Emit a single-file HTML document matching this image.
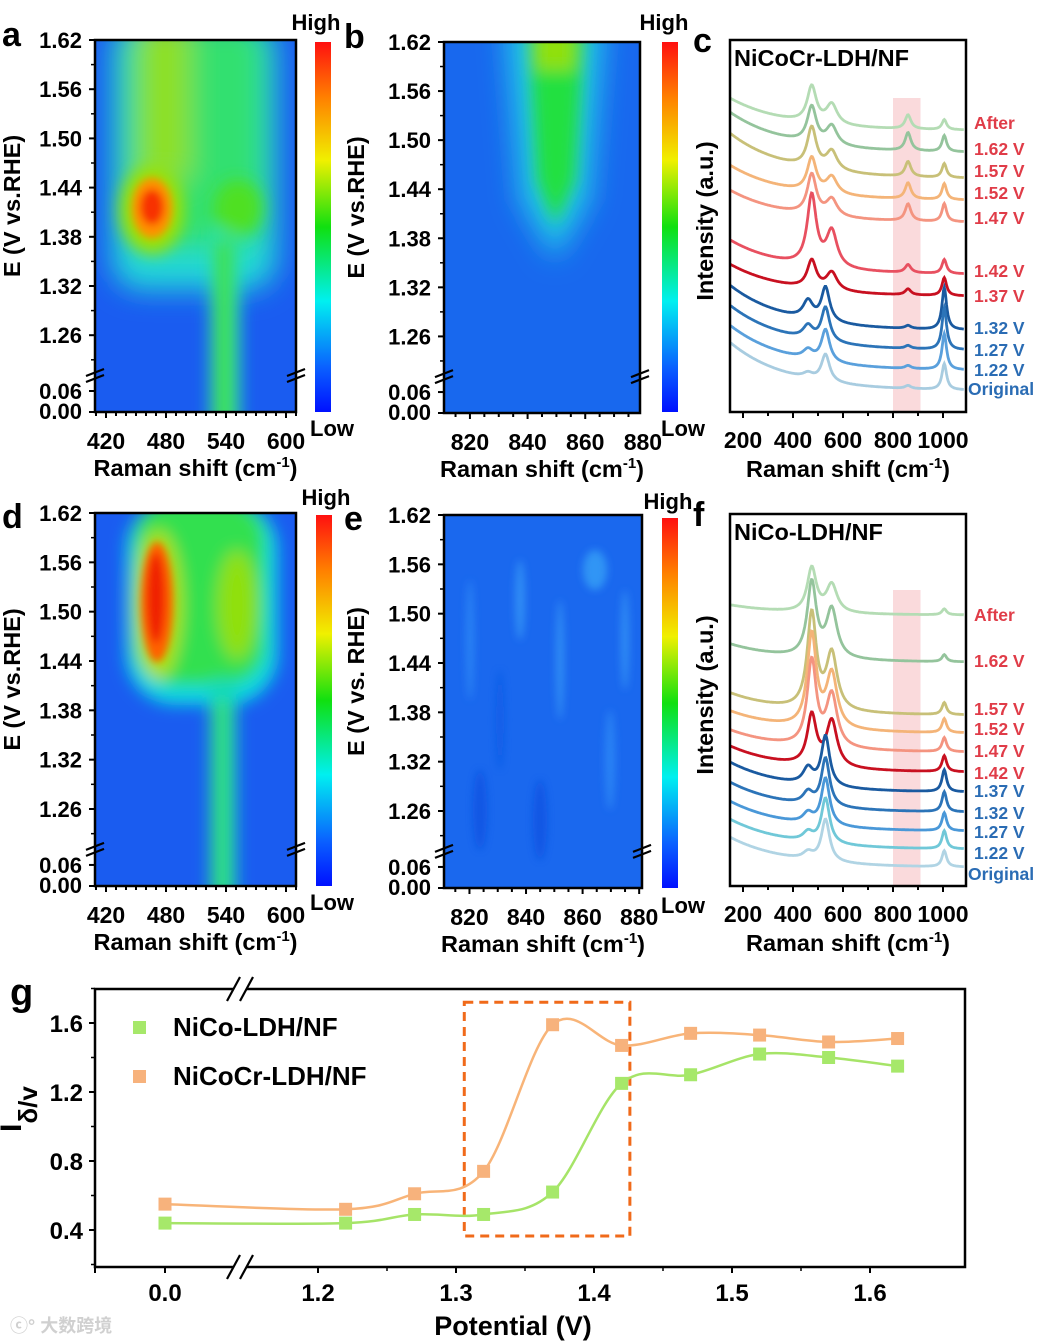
<!DOCTYPE html>
<html><head><meta charset="utf-8">
<style>
html,body{margin:0;padding:0;background:#fff;}
svg{display:block;font-family:"Liberation Sans","Noto Sans CJK SC",sans-serif;font-weight:bold;}
</style></head>
<body>
<svg id="fig" width="1039" height="1342" viewBox="0 0 1039 1342" xmlns="http://www.w3.org/2000/svg">
<defs>
<linearGradient id="jet" x1="0" y1="1" x2="0" y2="0">
<stop offset="0" stop-color="#0010ff"/><stop offset="0.12" stop-color="#0a60ff"/><stop offset="0.3" stop-color="#00f0f0"/>
<stop offset="0.5" stop-color="#10e010"/><stop offset="0.68" stop-color="#f0f000"/><stop offset="0.85" stop-color="#ff8000"/><stop offset="1" stop-color="#ff1010"/>
</linearGradient>
<filter id="bl8" x="-50%" y="-50%" width="200%" height="200%"><feGaussianBlur stdDeviation="8"/></filter>
<filter id="bl4" x="-50%" y="-50%" width="200%" height="200%"><feGaussianBlur stdDeviation="4"/></filter>
<filter id="bl14" x="-50%" y="-50%" width="200%" height="200%"><feGaussianBlur stdDeviation="14"/></filter>
<clipPath id="cpa"><rect x="95" y="40" width="201" height="372"/></clipPath>
<clipPath id="cpb"><rect x="444" y="42" width="196" height="371"/></clipPath>
<clipPath id="cpd"><rect x="95" y="513" width="201" height="373"/></clipPath>
<clipPath id="cpe"><rect x="444" y="515" width="198" height="373"/></clipPath>
</defs>

<g clip-path="url(#cpa)">
<rect x="95" y="40" width="201" height="372" fill="#1a5cf0"/>
<g filter="url(#bl14)">
<rect x="112" y="20" width="165" height="270" rx="30" fill="#20d8d8"/>
<rect x="125" y="20" width="140" height="230" rx="30" fill="#30e070"/>
<rect x="140" y="20" width="50" height="160" fill="#90e020"/>
</g>
<g filter="url(#bl8)">
<rect x="210" y="230" width="30" height="200" fill="#20e0b0"/>
<rect x="215" y="240" width="18" height="190" fill="#40e040"/>
<ellipse cx="238" cy="208" rx="24" ry="28" fill="#50e020"/>
<ellipse cx="152" cy="210" rx="32" ry="44" fill="#a0e000"/>
</g>
<g filter="url(#bl4)">
<ellipse cx="152" cy="208" rx="20" ry="30" fill="#ff9000"/>
<ellipse cx="152" cy="207" rx="12" ry="18" fill="#f83000"/>
</g>
</g>
<g clip-path="url(#cpb)">
<rect x="444" y="42" width="196" height="371" fill="#1868ee"/>
<g filter="url(#bl14)">
<path d="M505 20 L605 20 L590 200 L555 260 L520 200 Z" fill="#20c8e8"/>
</g>
<g filter="url(#bl8)">
<path d="M528 20 L585 20 L575 180 L555 225 L537 180 Z" fill="#20e040"/>
<rect x="535" y="30" width="40" height="40" fill="#90e010"/>
</g>
</g>
<g clip-path="url(#cpd)">
<rect x="95" y="513" width="201" height="373" fill="#1a5cf0"/>
<g filter="url(#bl8)">
<rect x="126" y="500" width="152" height="205" rx="50" fill="#10d8e0"/>
<rect x="135" y="500" width="130" height="185" rx="40" fill="#30e050"/>
<rect x="210" y="680" width="26" height="220" fill="#10d8c0"/>
<rect x="214" y="700" width="16" height="200" fill="#30e070"/>
<ellipse cx="237" cy="605" rx="20" ry="55" fill="#90e010"/>
<ellipse cx="158" cy="605" rx="24" ry="75" fill="#b0e000"/>
</g>
<g filter="url(#bl4)">
<ellipse cx="157" cy="602" rx="16" ry="60" fill="#ff6000"/>
<ellipse cx="156" cy="598" rx="9" ry="45" fill="#f02000"/>
</g>
</g>
<g clip-path="url(#cpe)">
<rect x="444" y="515" width="198" height="373" fill="#1a68ee"/>
<g filter="url(#bl4)" opacity="0.7">
<ellipse cx="520" cy="600" rx="5" ry="40" fill="#3a9ef8"/>
<ellipse cx="595" cy="570" rx="12" ry="20" fill="#3aa8f8"/>
<ellipse cx="470" cy="640" rx="4" ry="60" fill="#3090f8"/>
<ellipse cx="610" cy="760" rx="5" ry="50" fill="#3090f8"/>
<ellipse cx="540" cy="820" rx="7" ry="40" fill="#0a50e0"/>
<ellipse cx="480" cy="810" rx="7" ry="40" fill="#0a50e0"/>
<ellipse cx="560" cy="660" rx="4" ry="60" fill="#3a9ef8"/>
<ellipse cx="500" cy="720" rx="4" ry="50" fill="#0a58e4"/>
<ellipse cx="625" cy="640" rx="4" ry="50" fill="#3a9ef8"/>
</g>
</g>

<g id="axes"></g>
</svg>

<script>
const NS='http://www.w3.org/2000/svg';
const svg=document.getElementById('axes');
function el(tag,attrs,parent,txt){const e=document.createElementNS(NS,tag);for(const k in attrs)e.setAttribute(k,attrs[k]);if(txt!==undefined)e.textContent=txt;(parent||svg).appendChild(e);return e;}

const hmYTicks=['1.62','1.56','1.50','1.44','1.38','1.32','1.26'];
const hmYLow=['0.06','0.00'];
const aXTicks=[420,480,540,600];
const bXTicks=[820,840,860,880];
const hmPanels=[
 {id:'a',x0:95,x1:296,y0:40,y1:412,xmin:409,xmax:610,ticks:aXTicks,cb:[315,331,42,412],letter:[2,46],ytitle:'E (V vs.RHE)',hi:[316,30],lo:[332,436],minorStep:10},
 {id:'b',x0:444,x1:640,y0:42,y1:413,xmin:811,xmax:879,ticks:bXTicks,cb:[662,678,42,412],letter:[344,48],ytitle:'E (V vs.RHE)',hi:[664,30],lo:[683,436],minorStep:5},
 {id:'d',x0:95,x1:296,y0:513,y1:886,xmin:409,xmax:610,ticks:aXTicks,cb:[316,332,515,886],letter:[2,528],ytitle:'E (V vs.RHE)',hi:[326,505],lo:[332,910],minorStep:10},
 {id:'e',x0:444,x1:642,y0:515,y1:888,xmin:811,xmax:881,ticks:bXTicks,cb:[662,678,518,888],letter:[344,530],ytitle:'E (V vs. RHE)',hi:[668,509],lo:[683,913],minorStep:5}
];
hmPanels.forEach(p=>{
 const g=el('g',{});
 
 
 el('rect',{x:p.x0,y:p.y0,width:p.x1-p.x0,height:p.y1-p.y0,fill:'none',stroke:'#000','stroke-width':2.5},g);
 const H=p.y1-p.y0;
 const yPos=i=>p.y0+i*(H*49.2/372);
 hmYTicks.forEach((t,i)=>{const y=yPos(i);
  el('line',{x1:p.x0-6,x2:p.x0,y1:y,y2:y,stroke:'#000','stroke-width':2},g);
  el('line',{x1:p.x0-4,x2:p.x0,y1:y+H*24.6/372,y2:y+H*24.6/372,stroke:'#000','stroke-width':1.5},g);
  const tx=el('text',{x:p.x0-13,y:y+8,'text-anchor':'end','font-size':22},g,t);
  });
 const yl=[p.y1-H*21/372,p.y1];
 hmYLow.forEach((t,i)=>{el('line',{x1:p.x0-6,x2:p.x0,y1:yl[i],y2:yl[i],stroke:'#000','stroke-width':2},g);
  el('text',{x:p.x0-13,y:yl[i]+(i?7:8),'text-anchor':'end','font-size':22},g,t);});
 const by=p.y1-H*37/372;
 [p.x0,p.x1].forEach(bx=>{
  el('line',{x1:bx-9,y1:by+1,x2:bx+9,y2:by-6,stroke:'#000','stroke-width':2.2},g);
  el('line',{x1:bx-9,y1:by+7,x2:bx+9,y2:by,stroke:'#000','stroke-width':2.2},g);});
 const xs=v=>p.x0+(v-p.xmin)/(p.xmax-p.xmin)*(p.x1-p.x0);
 for(let v=Math.ceil(p.xmin/p.minorStep)*p.minorStep;v<=p.xmax;v+=p.minorStep){
  const major=p.ticks.includes(v);
  el('line',{x1:xs(v),x2:xs(v),y1:p.y1,y2:p.y1+(major?6:4),stroke:'#000','stroke-width':2},g);}
 p.ticks.forEach(v=>{const t=el('text',{x:xs(v),y:p.y1+37,'text-anchor':'middle','font-size':23},g,String(v));
  });
 const xt=el('text',{x:(p.x0+p.x1)/2,y:p.y1+64,'text-anchor':'middle','font-size':23.5},g);
 
 el('tspan',{},xt,'Raman shift (cm');el('tspan',{dy:-9,'font-size':15},xt,'-1');el('tspan',{dy:9},xt,')');
 const ytl=el('text',{x:0,y:0,'text-anchor':'middle','font-size':23.5,transform:`translate(${p.id==='a'||p.id==='d'?20:364},${(p.y0+p.y1)/2-20}) rotate(-90)`},g,p.ytitle);
 
 const lt=el('text',{x:p.letter[0],y:p.letter[1],'font-size':34},g,p.id);
 
 const cb=el('rect',{x:p.cb[0],y:p.cb[2],width:p.cb[1]-p.cb[0],height:p.cb[3]-p.cb[2],fill:'url(#jet)'},g);
 
 el('text',{x:p.hi[0],y:p.hi[1],'text-anchor':'middle','font-size':22},g,'High');
 el('text',{x:p.lo[0],y:p.lo[1],'text-anchor':'middle','font-size':22},g,'Low');
});

const peakPos=[460,475,530,555,860,1005];
const cLabels=['After','1.62 V','1.57 V','1.52 V','1.47 V','1.42 V','1.37 V','1.32 V','1.27 V','1.22 V','Original'];
const cBase=[130,152,178,200,222,274,296,330,350,370,390];
const cLift=[32,40,45,35,32,34,32,45,45,45,48];
const cAmps=[
 [0,36,0,20,14,10],[0,36,0,19,18,16],[0,40,0,19,15,14],[0,34,0,17,16,16],[0,40,0,17,17,18],
 [0,70,0,36,8,14],[0,28,0,18,6,18],[18,0,34,0,3,42],[13,0,34,0,3,42],[9,0,32,0,3,36],[5,0,27,0,3,26]];
const fLabels=['After','1.62 V','1.57 V','1.52 V','1.47 V','1.42 V','1.37 V','1.32 V','1.27 V','1.22 V','Original'];
const fBase=[615,662,715,733,752,772,792,812,831,849,867];
const fLift=[10,18,22,22,22,26,30,30,30,30,30];
const fAmps=[
 [0,44,0,28,0,6],[0,74,0,48,0,7],[0,95,0,56,0,12],[0,92,0,54,0,14],[0,85,0,52,0,14],
 [0,50,0,46,0,16],[16,0,50,0,0,22],[12,0,48,0,0,20],[10,0,47,0,0,18],[9,0,45,0,0,18],[7,0,42,0,0,16]];
const cColors=['#b4dcb4','#94c49c','#c8c078','#f4b478','#f49480','#e85060','#c81020','#1a5aa0','#2c74b8','#5aa0dc','#a8cce0'];
const fColors=['#b4dcb4','#94c49c','#c8c078','#f4b478','#f49480','#c81020','#1a5aa0','#2c74b8','#4a98d8','#70c8d8','#b0d4e4'];
const specPanels=[
 {id:'c',x0:730,x1:966,y0:40,y1:412,base:cBase,lift:cLift,amps:cAmps,labels:cLabels,colors:cColors,nRed:7,title:'NiCoCr-LDH/NF',band:98,labelY:[123,149,171,193,218,271,296,328,350,370,389]},
 {id:'f',x0:730,x1:966,y0:514,y1:886,base:fBase,lift:fLift,amps:fAmps,labels:fLabels,colors:fColors,nRed:6,title:'NiCo-LDH/NF',band:590,labelY:[615,661,709,729,751,773,791,813,832,853,874]}
];
const widths=[24,22,20,26,14,11];
specPanels.forEach(p=>{
 const g=el('g',{});
 
 
 const sx=w=>743+(w-200)*0.25;
 el('rect',{x:sx(800),y:p.band,width:sx(910)-sx(800),height:p.y1-p.band,fill:'#fadadc'},g);
 p.base.forEach((b,i)=>{
  let d='';
  for(let w=150;w<=1085;w+=3){
   let v=p.lift[i]*(Math.exp(-(w-150)/230)-Math.exp(-935/230));
   peakPos.forEach((c,k)=>{const hw=widths[k];v+=p.amps[i][k]/(1+((w-c)/hw)**2);});
   d+=(d?'L':'M')+sx(w).toFixed(1)+' '+(b-v).toFixed(1);}
  const pa=el('path',{d:d,fill:'none',stroke:p.colors[i],'stroke-width':2.8},g);
  
  const t=el('text',{x:p.labels[i]==='Original'?968:974,y:p.labelY[i]+6,'font-size':17.5,fill:i<p.nRed?'#e03c48':'#2a6cb4'},g,p.labels[i]);
  
 });
 el('rect',{x:p.x0,y:p.y0,width:p.x1-p.x0,height:p.y1-p.y0,fill:'none',stroke:'#000','stroke-width':2.5},g);
 el('text',{x:p.x0+4,y:p.y0+26,'font-size':23.5},g,p.title);
 for(let w=200;w<=1050;w+=100){const major=w%200===0;
  el('line',{x1:sx(w),x2:sx(w),y1:p.y1,y2:p.y1+(major?6:4),stroke:'#000','stroke-width':2},g);
  if(major)el('text',{x:sx(w),y:p.y1+36,'text-anchor':'middle','font-size':23},g,String(w));}
 const xt=el('text',{x:848,y:p.y1+65,'text-anchor':'middle','font-size':23.5},g);
 
 el('tspan',{},xt,'Raman shift (cm');el('tspan',{dy:-9,'font-size':15},xt,'-1');el('tspan',{dy:9},xt,')');
 const yt=el('text',{x:0,y:0,'text-anchor':'middle','font-size':23.5,transform:`translate(713,${(p.y0+p.y1)/2-5}) rotate(-90)`},g,'Intensity (a.u.)');
 
 el('text',{x:693,y:p.y0+12,'font-size':34},g,p.id);
});

const gPotentials=[0,1.22,1.27,1.32,1.37,1.42,1.47,1.52,1.57,1.62];
const gNiCo=[0.44,0.44,0.49,0.49,0.62,1.25,1.30,1.42,1.40,1.35];
const gNiCoCr=[0.55,0.52,0.61,0.74,1.59,1.47,1.54,1.53,1.49,1.51];
const gYTicks=[0.4,0.8,1.2,1.6];
const gXTicks=[0.0,1.2,1.3,1.4,1.5,1.6];
const G={x0:95,x1:965,y0:989,y1:1267};
const gx=v=>v<0.6?165+v*100:318+(v-1.2)*1380;
const gy=v=>1230-(v-0.4)*172.5;
const gg=el('g',{});


el('rect',{x:G.x0,y:G.y0,width:G.x1-G.x0,height:G.y1-G.y0,fill:'none',stroke:'#000','stroke-width':2.5},gg);
[G.y0,G.y1].forEach(y=>{
 el('rect',{x:233,y:y-6,width:14,height:12,fill:'#fff'},gg);
 el('line',{x1:227,y1:y+12,x2:240,y2:y-12,stroke:'#000','stroke-width':2.2},gg);
 el('line',{x1:240,y1:y+12,x2:253,y2:y-12,stroke:'#000','stroke-width':2.2},gg);});
gYTicks.forEach(v=>{const y=gy(v);
 el('line',{x1:G.x0-6,x2:G.x0,y1:y,y2:y,stroke:'#000','stroke-width':2},gg);
 el('line',{x1:G.x0-4,x2:G.x0,y1:gy(v+0.2),y2:gy(v+0.2),stroke:'#000','stroke-width':1.5},gg);
 const t=el('text',{x:G.x0-12,y:y+9,'text-anchor':'end','font-size':24},gg,v.toFixed(1));
 });
el('line',{x1:G.x0-4,x2:G.x0,y1:gy(0.2),y2:gy(0.2),stroke:'#000','stroke-width':1.5},gg);
gXTicks.forEach(v=>{const x=gx(v);
 el('line',{x1:x,x2:x,y1:G.y1,y2:G.y1+6,stroke:'#000','stroke-width':2},gg);
 if(v>=1.2&&v<1.6)el('line',{x1:gx(v+0.05),x2:gx(v+0.05),y1:G.y1,y2:G.y1+4,stroke:'#000','stroke-width':1.5},gg);
 const t=el('text',{x:x,y:G.y1+34,'text-anchor':'middle','font-size':24},gg,v.toFixed(1));
 });
el('line',{x1:G.x0,x2:G.x0,y1:G.y1,y2:G.y1+6,stroke:'#000','stroke-width':2},gg);
const box=el('rect',{x:gx(1.306),y:gy(1.72),width:gx(1.426)-gx(1.306),height:gy(0.365)-gy(1.72),fill:'none',stroke:'#f06a1a','stroke-width':3,'stroke-dasharray':'9 6'},gg);

function smooth(pts){let d=`M${pts[0][0]} ${pts[0][1]}`;
 for(let i=0;i<pts.length-1;i++){const p0=pts[Math.max(i-1,0)],p1=pts[i],p2=pts[i+1],p3=pts[Math.min(i+2,pts.length-1)];
  const c1=[p1[0]+(p2[0]-p0[0])/6,p1[1]+(p2[1]-p0[1])/6],c2=[p2[0]-(p3[0]-p1[0])/6,p2[1]-(p3[1]-p1[1])/6];
  d+=`C${c1[0]} ${c1[1]} ${c2[0]} ${c2[1]} ${p2[0]} ${p2[1]}`;}return d;}
[[gNiCoCr,'#f8b478','#f7b27c','nicocr'],[gNiCo,'#a6e468','#a6e86a','nico']].forEach(([arr,lc,mc,nm])=>{
 const pts=arr.map((v,i)=>[gx(gPotentials[i]),gy(v)]);
 const l=el('path',{d:smooth(pts),fill:'none',stroke:lc,'stroke-width':2.5},gg);
 
 pts.forEach(p=>{const m=el('rect',{x:p[0]-6.5,y:p[1]-6.5,width:13,height:13,fill:mc},gg);
  });
});
const l1=el('rect',{x:133,y:1021,width:13,height:13,fill:'#a6e86a'},gg);

el('text',{x:173,y:1036,'font-size':26},gg,'NiCo-LDH/NF');
const l2=el('rect',{x:133,y:1070,width:13,height:13,fill:'#f7b27c'},gg);

el('text',{x:173,y:1085,'font-size':26},gg,'NiCoCr-LDH/NF');
const yt=el('text',{x:0,y:0,'font-size':30,transform:'translate(21,1132) rotate(-90)'},gg);

el('tspan',{},yt,'I');el('tspan',{dy:16,'font-size':26},yt,'δ/v');
const xt=el('text',{x:513,y:1335,'text-anchor':'middle','font-size':27},gg,'Potential (V)');

el('text',{x:10,y:1005,'font-size':38},gg,'g');
el('text',{x:10,y:1332,'font-size':18,fill:'#d0d0d0'},gg,'ⓒ° 大数跨境');
</script>
</body></html>
